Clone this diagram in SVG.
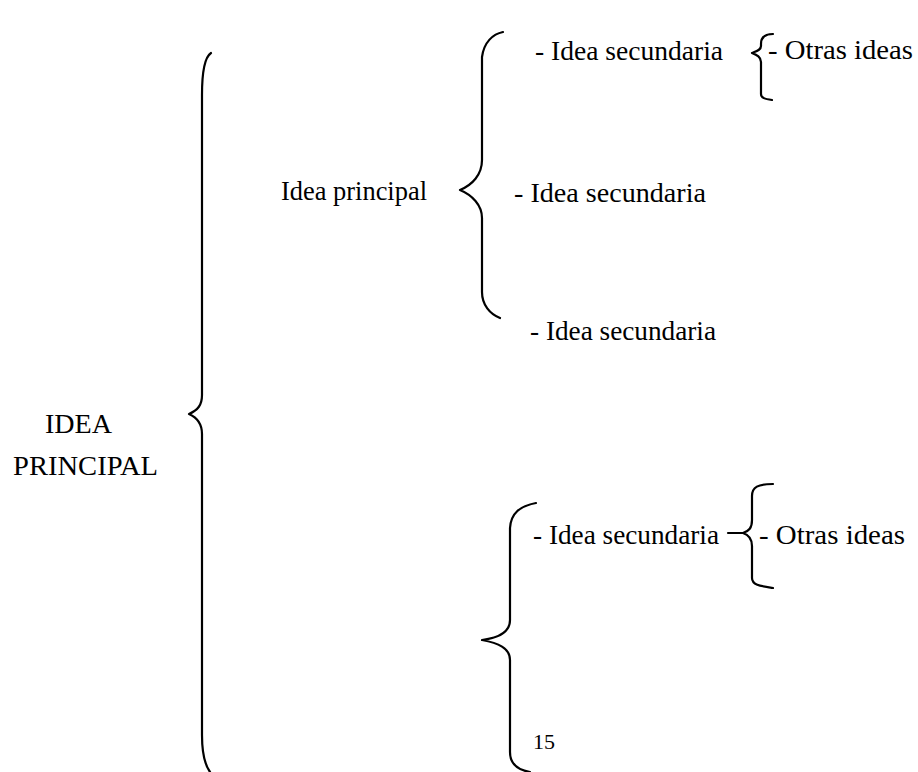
<svg xmlns="http://www.w3.org/2000/svg" width="918" height="772" viewBox="0 0 918 772">
<style>
text{font-family:"Liberation Serif","Times New Roman",serif;font-size:27px;fill:#000}
.b{fill:none;stroke:#000;stroke-width:2.2;stroke-linecap:round;stroke-linejoin:round}
.s{font-size:21px}
</style>
<rect width="918" height="772" fill="#fff"/>
<g id="connectors">
<path class="b" d="M211,53 C205,57 202,70 202,95 L202,395 C202,405 198,410 189,414 C198,418 202,424 202,434 L202,735 C202,755 205,765 210,772"/>
<path class="b" d="M503,32 C493,34 484,42 482,57 L482,160 C482,175 472,185 460,190 C472,195 482,205 482,218 L482,292 C482,305 490,314 500,318"/>
<path class="b" d="M773,34 C766,34 761,37 761,44 L761,46 C761,50 757,51 752,53 C757,55 761,57 761,62 L761,94 C761,98 765,99 772,100"/>
<path class="b" d="M536,503 C520,506 511,513 510,528 L510,620 C510,632 498,638 482,640 C498,643 510,648 510,660 L510,752 C510,764 518,770 530,772"/>
<path class="b" d="M728,533 L744,533"/>
<path class="b" d="M773,484 C758,484 752,487 752,496 L752,520 C752,528 749,531 743,533 C749,535 752,539 752,546 L752,578 C752,585 760,586 773,588"/>
</g>
<g id="n-idea-principal-root"><text x="45" y="433" textLength="67" lengthAdjust="spacingAndGlyphs">IDEA</text><text x="13" y="475" textLength="145" lengthAdjust="spacingAndGlyphs">PRINCIPAL</text></g>
<g id="n-idea-principal"><text x="281" y="200" textLength="146" lengthAdjust="spacingAndGlyphs">Idea principal</text></g>
<g id="n-sec1"><text x="535" y="60" textLength="188" lengthAdjust="spacingAndGlyphs">- Idea secundaria</text></g>
<g id="n-otras1"><text x="768" y="59" textLength="145" lengthAdjust="spacingAndGlyphs">- Otras ideas</text></g>
<g id="n-sec2"><text x="514" y="202" textLength="192" lengthAdjust="spacingAndGlyphs">- Idea secundaria</text></g>
<g id="n-sec3"><text x="530" y="340" textLength="186" lengthAdjust="spacingAndGlyphs">- Idea secundaria</text></g>
<g id="n-sec4"><text x="533" y="544" textLength="186" lengthAdjust="spacingAndGlyphs">- Idea secundaria</text></g>
<g id="n-otras2"><text x="759" y="544" textLength="146" lengthAdjust="spacingAndGlyphs">- Otras ideas</text></g>
<g id="n-15"><text class="s" x="533" y="749" textLength="22" lengthAdjust="spacingAndGlyphs">15</text></g>
</svg>
